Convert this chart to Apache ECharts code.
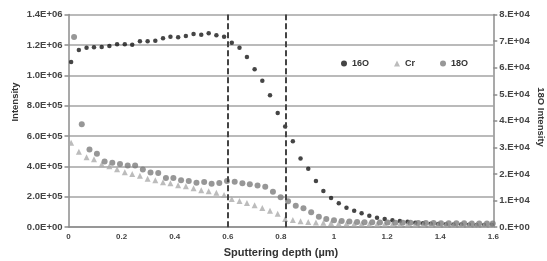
<!DOCTYPE html>
<html>
<head>
<meta charset="utf-8">
<script src="https://cdn.jsdelivr.net/npm/echarts@6/dist/echarts.min.js"></script>
<style>
html,body{margin:0;padding:0;background:#fff;}
#chart{width:547px;height:261px;}
</style>
</head>
<body>
<div id="chart"></div>
<script>
// Sputtering depth (µm) of each measurement
var depth = [0.010,0.039,0.068,0.096,0.125,0.154,0.183,0.212,0.240,0.269,0.298,0.327,0.356,0.384,0.413,0.442,0.471,0.500,0.528,0.557,0.586,0.615,0.644,0.672,0.701,0.730,0.759,0.788,0.816,0.845,0.874,0.903,0.932,0.960,0.989,1.018,1.047,1.076,1.104,1.133,1.162,1.191,1.220,1.248,1.277,1.306,1.335,1.364,1.392,1.421,1.450,1.479,1.508,1.536,1.565,1.594];
var depth18O = [0.021,0.050,0.079,0.107,0.136,0.165,0.194,0.223,0.251,0.280,0.309,0.338,0.367,0.395,0.424,0.453,0.482,0.511,0.539,0.568,0.597,0.626,0.655,0.683,0.712,0.741,0.770,0.799,0.827,0.856,0.885,0.914,0.943,0.971,1.000,1.029,1.058,1.087,1.115,1.144,1.173,1.202,1.231,1.259,1.288,1.317,1.346,1.375,1.403,1.432,1.461,1.490,1.519,1.547,1.576,1.598];
// 16O intensity (left axis)
var o16 = [1.087e6,1.166e6,1.181e6,1.184e6,1.186e6,1.193e6,1.204e6,1.204e6,1.201e6,1.224e6,1.224e6,1.228e6,1.243e6,1.254e6,1.250e6,1.258e6,1.272e6,1.267e6,1.276e6,1.263e6,1.254e6,1.214e6,1.181e6,1.120e6,1.039e6,0.964e6,0.868e6,0.752e6,0.662e6,0.565e6,0.453e6,0.385e6,0.304e6,0.238e6,0.192e6,0.157e6,0.128e6,0.109e6,0.091e6,0.076e6,0.063e6,0.054e6,0.045e6,0.041e6,0.036e6,0.030e6,0.026e6,0.023e6,0.021e6,0.019e6,0.018e6,0.017e6,0.016e6,0.015e6,0.015e6,0.014e6];
// Cr intensity (left axis)
var cr = [0.556e6,0.497e6,0.460e6,0.447e6,0.414e6,0.401e6,0.381e6,0.362e6,0.350e6,0.339e6,0.319e6,0.309e6,0.296e6,0.289e6,0.276e6,0.269e6,0.256e6,0.243e6,0.236e6,0.227e6,0.212e6,0.186e6,0.172e6,0.159e6,0.144e6,0.126e6,0.109e6,0.089e6,0.054e6,0.047e6,0.039e6,0.034e6,0.031e6,0.029e6,0.027e6,0.025e6,0.024e6,0.023e6,0.022e6,0.021e6,0.020e6,0.020e6,0.019e6,0.019e6,0.018e6,0.018e6,0.018e6,0.017e6,0.017e6,0.017e6,0.016e6,0.016e6,0.016e6,0.016e6,0.015e6,0.015e6];
// 18O intensity (right axis)
var o18 = [71.5e3,38.7e3,29.2e3,27.6e3,24.7e3,24.2e3,23.8e3,23.2e3,23.2e3,21.7e3,20.6e3,20.4e3,18.5e3,18.5e3,17.7e3,17.4e3,16.7e3,17.0e3,16.3e3,16.6e3,17.4e3,17.1e3,16.5e3,16.2e3,15.7e3,15.2e3,13.3e3,11.3e3,9.8e3,8.1e3,7.1e3,5.6e3,3.9e3,3.1e3,2.6e3,2.3e3,2.1e3,2.0e3,1.9e3,1.9e3,1.8e3,1.8e3,1.7e3,1.7e3,1.7e3,1.6e3,1.6e3,1.6e3,1.5e3,1.5e3,1.5e3,1.5e3,1.4e3,1.4e3,1.4e3,1.4e3];
// dashed reference depths
var markerDepths = [0.6, 0.82];
// tick labels
var leftTicks = ['0.0E+00','2.0E+05','4.0E+05','6.0E+05','8.0E+05','1.0E+06','1.2E+06','1.4E+06'];
var rightTicks = ['0.E+00','1.E+04','2.E+04','3.E+04','4.E+04','5.E+04','6.E+04','7.E+04','8.E+04'];
var xTicks = ['0','0.2','0.4','0.6','0.8','1','1.2','1.4','1.6'];

function pairs(xs, ys){ return ys.map(function(v,i){ return [xs[i], v]; }); }

var FONT = '"Liberation Sans", Arial, sans-serif';
var chart = echarts.init(document.getElementById('chart'), null, {renderer:'canvas'});
chart.setOption({
  animation: false,
  backgroundColor: '#fff',
  grid: {left: 68.5, right: 53.7, top: 14.5, bottom: 33.8, containLabel: false},
  legend: {
    left: 336, top: 54, itemWidth: 6, itemHeight: 6, itemGap: 25,
    textStyle: {fontFamily: FONT, fontSize: 9, fontWeight: 'bold', color: '#333'},
    data: [{name:'16O', icon:'circle'},{name:'Cr', icon:'triangle'},{name:'18O', icon:'circle'}]
  },
  xAxis: {
    type: 'value', min: 0, max: 1.6, interval: 0.2,
    axisLine: {show: true, lineStyle: {color: '#8c8c8c', width: 1.5}},
    axisTick: {show: false},
    splitLine: {show: false},
    axisLabel: {margin: 6, fontFamily: FONT, fontSize: 8, fontWeight: 'bold', color: '#444',
      formatter: function(v){ return xTicks[Math.round(v/0.2)]; }}
  },
  yAxis: [{
    type: 'value', min: 0, max: 1.4e6, interval: 2e5,
    axisLine: {show: true, lineStyle: {color: '#8c8c8c', width: 1.5}},
    axisTick: {show: true, length: 4, lineStyle: {color: '#8c8c8c', width: 1.5}},
    splitLine: {show: true, lineStyle: {color: '#a3a3a3', width: 1.5}},
    axisLabel: {margin: 6, fontFamily: FONT, fontSize: 9.5, fontWeight: 'bold', color: '#444',
      formatter: function(v){ return leftTicks[Math.round(v/2e5)]; }}
  },{
    type: 'value', min: 0, max: 8e4, interval: 1e4, position: 'right',
    axisLine: {show: true, lineStyle: {color: '#8c8c8c', width: 1.5}},
    axisTick: {show: true, length: 4, lineStyle: {color: '#8c8c8c', width: 1.5}},
    splitLine: {show: false},
    axisLabel: {margin: 6, fontFamily: FONT, fontSize: 9.5, fontWeight: 'bold', color: '#444',
      formatter: function(v){ return rightTicks[Math.round(v/1e4)]; }}
  }],
  graphic: [
    {type:'text', x: 15, y: 102, rotation: Math.PI/2,
     style:{text:'Intensity', font:'bold 9.5px ' + FONT, fill:'#333', textAlign:'center', textVerticalAlign:'middle'}},
    {type:'text', x: 541, y: 117, rotation: -Math.PI/2,
     style:{text:'18O Intensity', font:'bold 9.5px ' + FONT, fill:'#333', textAlign:'center', textVerticalAlign:'middle'}},
    {type:'text', x: 281, y: 253,
     style:{text:'Sputtering depth (\u00b5m)', font:'bold 11px ' + FONT, fill:'#333', textAlign:'center', textVerticalAlign:'middle'}}
  ],
  series: [
    {name:'16O', type:'scatter', yAxisIndex:0, symbol:'circle', symbolSize:4.5,
     itemStyle:{color:'#161616'}, data: pairs(depth, o16),
     markLine: {silent:true, symbol:['none','none'], label:{show:false},
       lineStyle:{color:'#444', type:[6,3], width:2},
       data: markerDepths.map(function(d){ return {xAxis: d}; })}},
    {name:'Cr', type:'scatter', yAxisIndex:0, symbol:'triangle', symbolSize:6,
     itemStyle:{color:'#ababab'}, data: pairs(depth, cr)},
    {name:'18O', type:'scatter', yAxisIndex:1, symbol:'circle', symbolSize:6,
     itemStyle:{color:'#7d7d7d'}, data: pairs(depth18O, o18)}
  ]
});
</script>
</body>
</html>
